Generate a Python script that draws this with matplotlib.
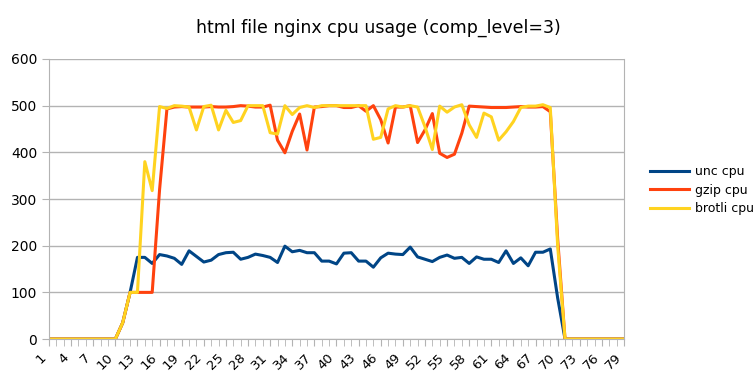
import numpy as np
import matplotlib.pyplot as plt

x = list(range(1, 80))

unc_cpu = [0, 0, 0, 0, 0, 0, 0, 0, 0, 0,
           35, 100, 175, 175, 162, 181, 178, 173, 160, 189,
           177, 165, 169, 181, 185, 186, 171, 175, 182, 179,
           175, 164, 199, 187, 190, 185, 185, 167, 167, 161,
           184, 185, 167, 167, 154, 174, 184, 182, 181, 197,
           176, 171, 166, 175, 180, 173, 175, 162, 176, 171,
           171, 164, 189, 162, 174, 157, 186, 186, 193, 88,
           0, 0, 0, 0, 0, 0, 0, 0, 0]

gzip_cpu = [0, 0, 0, 0, 0, 0, 0, 0, 0, 0,
            35, 100, 100, 100, 100, 320, 493, 497, 498, 497,
            497, 497, 498, 497, 497, 498, 500, 499, 497, 497,
            501, 426, 399, 445, 482, 405, 497, 498, 500, 500,
            496, 496, 500, 488, 500, 470, 420, 497, 497, 500,
            421, 448, 483, 398, 389, 396, 441, 499, 498, 497,
            496, 496, 496, 497, 498, 497, 497, 498, 487, 215,
            0, 0, 0, 0, 0, 0, 0, 0, 0]

brotli_cpu = [0, 0, 0, 0, 0, 0, 0, 0, 0, 0,
              35, 100, 100, 380, 318, 498, 494, 500, 499, 497,
              448, 498, 501, 448, 490, 464, 468, 500, 500, 500,
              442, 439, 500, 481, 496, 500, 496, 500, 500, 500,
              500, 500, 500, 500, 428, 432, 493, 500, 497, 500,
              497, 455, 406, 499, 486, 497, 502, 459, 432, 484,
              476, 426, 444, 466, 496, 499, 499, 502, 496, 200,
              0, 0, 0, 0, 0, 0, 0, 0, 0]

x_labels = [str(i) for i in range(1, 80, 3)]

fig = plt.figure(figsize=(7.56, 3.78), dpi=100)
ax = fig.add_axes([0.0648, 0.103, 0.7606, 0.741])

ax.plot(x, unc_cpu, color="#004586", linewidth=2.2, label="unc cpu")
ax.plot(x, gzip_cpu, color="#ff420e", linewidth=2.2, label="gzip cpu")
ax.plot(x, brotli_cpu, color="#ffd320", linewidth=2.2, label="brotli cpu")

ax.set_xlim(1, 79)
ax.set_ylim(0, 600)
ax.set_yticks(range(0, 601, 100))
ax.set_xticks(range(1, 80, 3))
ax.set_xticklabels(x_labels, rotation=45, ha="right", fontsize=9.5)
ax.set_xticks(range(1, 80), minor=True)
ax.tick_params(axis="y", labelsize=10, length=5, color="#b3b3b3")
ax.tick_params(axis="x", which="both", length=5, color="#b3b3b3")
ax.yaxis.grid(True, color="#b3b3b3", linewidth=1)
ax.set_axisbelow(True)
for s in ax.spines.values():
    s.set_color("#b3b3b3")
ax.spines["top"].set_visible(False)

fig.suptitle("html file nginx cpu usage (comp_level=3)", x=0.5, y=0.95, fontsize=12.5)
ax.legend(loc="center left", bbox_to_anchor=(1.045, 0.532), frameon=False,
          fontsize=9, handlelength=3.1, handletextpad=0.5,
          labelspacing=0.45, borderaxespad=0, borderpad=0)

fig.savefig("out.png", dpi=100)
